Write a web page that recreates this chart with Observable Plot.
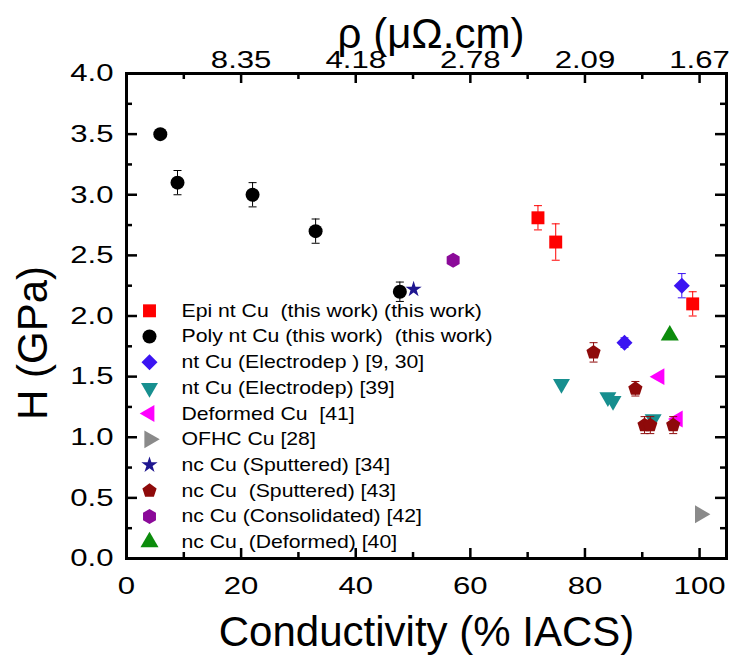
<!DOCTYPE html>
<html><head><meta charset="utf-8">
<script src="https://cdn.jsdelivr.net/npm/d3@7"></script>
<script src="https://cdn.jsdelivr.net/npm/@observablehq/plot@0.6"></script>
<style>
html,body{margin:0;padding:0;background:#fff;}
#chart{position:relative;width:731px;height:665px;}
svg text{white-space:pre;}
</style></head><body><div id="chart"></div>
<script>
// ---------- data ----------
const epiX = [71.8, 74.9, 98.8];
const epiH = [2.81, 2.61, 2.10];
const epiErr = [0.10, 0.15, 0.10];

const polyX = [5.9, 8.9, 22.0, 33.0, 47.7];
const polyH = [3.50, 3.10, 3.00, 2.70, 2.20];
const polyErr = [0.03, 0.10, 0.10, 0.10, 0.08];

const ntEdX = [96.9, 86.9];
const ntEdH = [2.25, 1.78];
const ntEdErr = [0.10, 0.04];

const ntEd39X = [75.9, 84.0, 84.9, 91.9];
const ntEd39H = [1.44, 1.33, 1.30, 1.15];

const defX = [93.0, 96.2];
const defH = [1.50, 1.15];

const ofhcX = [100.1];
const ofhcH = [0.365];

const spt34X = [50.1];
const spt34H = [2.22];

const spt43X = [81.5, 88.8, 90.4, 91.4, 95.4];
const spt43H = [1.70, 1.40, 1.10, 1.10, 1.10];
const spt43Err = [0.08, 0.06, 0.07, 0.07, 0.07];

const consX = [57.0];
const consH = [2.46];

const defmX = [94.8];
const defmH = [1.84];

const seriesNames = [
  "Epi nt Cu  (this work) (this work)",
  "Poly nt Cu (this work)  (this work)",
  "nt Cu (Electrodep ) [9, 30]",
  "nt Cu (Electrodep) [39]",
  "Deformed Cu  [41]",
  "OFHC Cu [28]",
  "nc Cu (Sputtered) [34]",
  "nc Cu  (Sputtered) [43]",
  "nc Cu (Consolidated) [42]",
  "nc Cu  (Deformed) [40]"
];

const xDomain = [0, 104.7];
const yDomain = [0, 4];
const xTicks = [0, 20, 40, 60, 80, 100];
const xMinor = [10, 30, 50, 70, 90];
const xMajorInner = [20, 40, 60, 80, 100];
const yTicks = [0, 0.5, 1, 1.5, 2, 2.5, 3, 3.5, 4];
const yMajorInner = [0.5, 1, 1.5, 2, 2.5, 3, 3.5];
const yMinor = [0.25, 0.75, 1.25, 1.75, 2.25, 2.75, 3.25, 3.75];
const topTickValues = [20, 40, 60, 80, 100];
const topTickLabels = ["8.35", "4.18", "2.78", "2.09", "1.67"];

const xTitle = "Conductivity (% IACS)";
const yTitle = "H (GPa)";
const topTitle = "ρ (μΩ.cm)";

// ---------- layout ----------
const W = 731, HT = 665, mL = 126, mR = 5, mT = 73, mB = 107;
const frameW = W - mL - mR, frameH = HT - mT - mB;

// ---------- symbols ----------
function poly(n, a0) {
  return {draw(ctx, size) {
    const R = Math.sqrt(2 * size / (n * Math.sin(2 * Math.PI / n)));
    for (let k = 0; k < n; k++) {
      const a = a0 + 2 * Math.PI * k / n;
      const px = R * Math.cos(a), py = R * Math.sin(a);
      if (k) ctx.lineTo(px, py); else ctx.moveTo(px, py);
    }
    ctx.closePath();
  }};
}
const SQUARE = poly(4, Math.PI / 4);
const DIAMOND = poly(4, -Math.PI / 2);
const TRI_UP = poly(3, -Math.PI / 2);
const TRI_DOWN = poly(3, Math.PI / 2);
const TRI_LEFT = poly(3, Math.PI);
const TRI_RIGHT = poly(3, 0);
const PENTAGON = poly(5, -Math.PI / 2);
const HEXAGON = poly(6, -Math.PI / 2);
const STAR = d3.symbolStar;
const CAP = {draw(ctx) { ctx.moveTo(-4, 0); ctx.lineTo(4, 0); }};

const series = [
  {x: epiX, h: epiH, err: epiErr, color: "#ff0000", symbol: SQUARE, r: 7.3},
  {x: polyX, h: polyH, err: polyErr, color: "#000000", symbol: "circle", r: 7},
  {x: ntEdX, h: ntEdH, err: ntEdErr, color: "#3b14f2", symbol: DIAMOND, r: 6.4},
  {x: ntEd39X, h: ntEd39H, color: "#178f8f", symbol: TRI_DOWN, r: 6.3},
  {x: defX, h: defH, color: "#ff00ff", symbol: TRI_LEFT, r: 6.3},
  {x: ofhcX, h: ofhcH, color: "#8a8a8a", symbol: TRI_RIGHT, r: 6.6},
  {x: spt34X, h: spt34H, color: "#1f1790", symbol: STAR, r: 5.1},
  {x: spt43X, h: spt43H, err: spt43Err, color: "#8e0a0a", symbol: PENTAGON, r: 6.5},
  {x: consX, h: consH, color: "#8b0a99", symbol: HEXAGON, r: 6.8},
  {x: defmX, h: defmH, color: "#0c8c0c", symbol: TRI_UP, r: 6.7}
].map((s, i) => ({...s, name: seriesNames[i]}));

const marks = [];

// axes (labels only)
marks.push(
  Plot.axisX({anchor: "bottom", ticks: xTicks, tickSize: 0, tickPadding: 18.3, fontSize: 24.5, label: null}),
  Plot.axisX({anchor: "top", ticks: topTickValues, tickFormat: d => topTickLabels[topTickValues.indexOf(d)], tickSize: 0, tickPadding: 0, dy: -6, fontSize: 24.5, label: null}),
  Plot.axisY({anchor: "left", ticks: yTicks, tickFormat: d3.format(".1f"), tickSize: 0, tickPadding: 13, fontSize: 24.5, label: null})
);

// titles
const titleOpts = {text: d => d, fontSize: 42, textAnchor: "middle", lineAnchor: "middle"};
marks.push(
  Plot.text([xTitle], {...titleOpts, frameAnchor: "bottom", dy: 74}),
  Plot.text([yTitle], {...titleOpts, frameAnchor: "left", rotate: -90, dx: -93, dy: 27}),
  Plot.text([topTitle], {...titleOpts, frameAnchor: "top", dx: 4.5, dy: -39})
);

// data
for (const s of series) {
  const rows = s.x.map((x, i) => ({x, h: s.h[i], err: s.err ? s.err[i] : 0}));
  const er = rows.filter(d => d.err > 0);
  if (er.length) {
    marks.push(
      Plot.ruleX(er, {x: "x", y1: d => d.h - d.err, y2: d => d.h + d.err, stroke: s.color, strokeWidth: 1}),
      Plot.dot(er, {x: "x", y: d => d.h + d.err, symbol: CAP, stroke: s.color, fill: "none", strokeWidth: 1}),
      Plot.dot(er, {x: "x", y: d => d.h - d.err, symbol: CAP, stroke: s.color, fill: "none", strokeWidth: 1})
    );
  }
  marks.push(Plot.dot(rows, {x: "x", y: "h", symbol: s.symbol, fill: s.color, stroke: "none", r: s.r}));
}

// in-plot legend
series.forEach((s, i) => {
  const dy = 237.3 + 25.7 * i;
  marks.push(
    Plot.dot([s.name], {frameAnchor: "top-left", dx: 23, dy, symbol: s.symbol, fill: s.color, stroke: "none", r: s.r}),
    Plot.text([s.name], {text: d => d, frameAnchor: "top-left", dx: 55, dy, textAnchor: "start", lineAnchor: "middle", fontSize: 18.6})
  );
});

const common = {
  width: W,
  height: HT,
  marginLeft: mL,
  marginRight: mR,
  marginTop: mT,
  marginBottom: mB
};

const svg = Plot.plot({
  ...common,
  style: {fontFamily: "'Liberation Sans', Arial, sans-serif", color: "black", background: "white", overflow: "visible"},
  x: {domain: xDomain},
  y: {domain: yDomain},
  marks
});

// widen glyphs of tick labels and legend to match the reference lettering
function stretch(sel, k) {
  svg.querySelectorAll(sel).forEach(t => {
    const tr = t.getAttribute("transform");
    if (tr) t.setAttribute("transform", tr + ` scale(${k},1)`);
    else {
      const x = +t.getAttribute("x") || 0, y = +t.getAttribute("y") || 0;
      t.removeAttribute("x"); t.removeAttribute("y");
      t.setAttribute("transform", `translate(${x},${y}) scale(${k},1)`);
    }
  });
}
stretch('g[aria-label$="tick label"] text', 1.27);
stretch('g[font-size="18.6"] text', 1.14);

// frame with inward ticks on all four sides, drawn as a second layer with the same scales
const MAJ = 10, MIN = 6;
const tk = {stroke: "black", strokeWidth: 2.5};
const frameSvg = Plot.plot({
  ...common,
  style: {background: "transparent", position: "absolute", left: "0px", top: "0px", overflow: "visible", color: "black"},
  x: {domain: xDomain, axis: null},
  y: {domain: yDomain, axis: null},
  marks: [
    Plot.ruleX(xMajorInner, {x: d => d, insetTop: frameH - MAJ, ...tk}),
    Plot.ruleX(xMinor, {x: d => d, insetTop: frameH - MIN, ...tk}),
    Plot.ruleX(xMajorInner, {x: d => d, insetBottom: frameH - MAJ, ...tk}),
    Plot.ruleX(xMinor, {x: d => d, insetBottom: frameH - MIN, ...tk}),
    Plot.ruleY(yMajorInner, {y: d => d, insetRight: frameW - (MAJ + 1), ...tk}),
    Plot.ruleY(yMinor, {y: d => d, insetRight: frameW - MIN, ...tk}),
    Plot.ruleY(yMajorInner, {y: d => d, insetLeft: frameW - (MAJ + 1), ...tk}),
    Plot.ruleY(yMinor, {y: d => d, insetLeft: frameW - MIN, ...tk}),
    Plot.frame({stroke: "black", strokeWidth: 3})
  ]
});

const chart = document.getElementById("chart");
chart.appendChild(svg);
chart.appendChild(frameSvg);
</script>
</body></html>
